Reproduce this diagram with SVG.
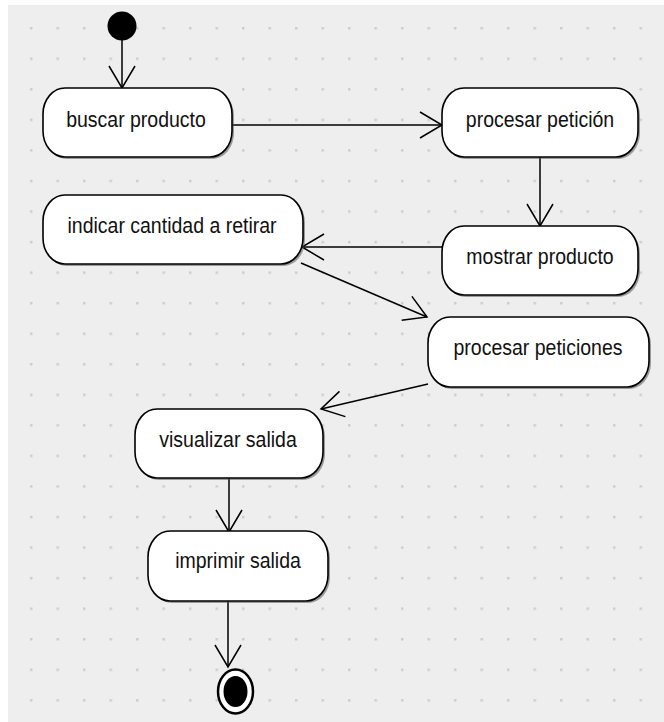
<svg xmlns="http://www.w3.org/2000/svg" width="664" height="722" viewBox="0 0 664 722">
  <defs>
    <pattern id="grid" patternUnits="userSpaceOnUse" x="30" y="27" width="26.5" height="30.55">
      <rect x="0" y="0" width="2.5" height="2.5" fill="#cdcdcd"/>
    </pattern>
    <marker id="open-arrow" markerUnits="userSpaceOnUse" markerWidth="30" markerHeight="30" viewBox="-26 -15 30 30" refX="0" refY="0" orient="auto">
      <path d="M-22,-13 L0,0 L-22,13" fill="none" stroke="#000" stroke-width="1.5"/>
    </marker>
  </defs>
  <style>
    .act-shadow { fill: #555; opacity: 0.55; }
    .act { fill: #fff; stroke: #000; stroke-width: 1.6; }
    .lbl { font-family: "Liberation Sans", Arial, sans-serif; font-size: 19.5px; fill: #111; text-anchor: middle; }
    .edge { fill: none; stroke: #000; stroke-width: 1.5; marker-end: url(#open-arrow); }
  </style>

  <!-- canvas -->
  <rect x="0" y="0" width="664" height="722" fill="#fff"/>
  <rect x="8" y="5" width="656" height="717" fill="#eeeeee"/>
  <rect x="8" y="5" width="656" height="717" fill="url(#grid)"/>

  <!-- connectors -->
  <g id="connectors">
    <line class="edge" x1="122" y1="40" x2="122" y2="88"/>
    <line class="edge" x1="232" y1="125" x2="442" y2="125"/>
    <line class="edge" x1="540" y1="157" x2="540" y2="226"/>
    <line class="edge" x1="442" y1="247" x2="302" y2="247"/>
    <line class="edge" x1="301" y1="263" x2="427" y2="317"/>
    <line class="edge" x1="428" y1="384" x2="321" y2="409"/>
    <line class="edge" x1="229" y1="478" x2="229" y2="532"/>
    <line class="edge" x1="228" y1="601" x2="228" y2="667"/>
  </g>

  <!-- initial state -->
  <g id="start">
    <circle cx="122" cy="26" r="14.5" fill="#000"/>
  </g>

  <g id="buscar-producto">
    <rect class="act-shadow" x="45" y="90" width="189" height="69" rx="22" ry="26"/>
    <rect class="act" x="43" y="88" width="189" height="69" rx="22" ry="26"/>
    <text class="lbl" transform="translate(136,127) scale(1,1.15)">buscar producto</text>
  </g>

  <g id="procesar-peticion">
    <rect class="act-shadow" x="444" y="90" width="196" height="69" rx="22" ry="26"/>
    <rect class="act" x="442" y="88" width="196" height="69" rx="22" ry="26"/>
    <text class="lbl" transform="translate(540,127) scale(1,1.15)">procesar petición</text>
  </g>

  <g id="mostrar-producto">
    <rect class="act-shadow" x="444" y="228" width="196" height="69" rx="22" ry="26"/>
    <rect class="act" x="442" y="226" width="196" height="69" rx="22" ry="26"/>
    <text class="lbl" transform="translate(540,264) scale(1,1.15)">mostrar producto</text>
  </g>

  <g id="indicar-cantidad">
    <rect class="act-shadow" x="45" y="197" width="260" height="69" rx="22" ry="26"/>
    <rect class="act" x="43" y="195" width="260" height="69" rx="22" ry="26"/>
    <text class="lbl" transform="translate(172,233) scale(1,1.15)">indicar cantidad a retirar</text>
  </g>

  <g id="procesar-peticiones">
    <rect class="act-shadow" x="430" y="319" width="221" height="70" rx="22" ry="26"/>
    <rect class="act" x="428" y="317" width="221" height="70" rx="22" ry="26"/>
    <text class="lbl" transform="translate(538,355) scale(1,1.15)">procesar peticiones</text>
  </g>

  <g id="visualizar-salida">
    <rect class="act-shadow" x="137" y="411" width="188" height="69" rx="22" ry="26"/>
    <rect class="act" x="135" y="409" width="188" height="69" rx="22" ry="26"/>
    <text class="lbl" transform="translate(228,447) scale(1,1.15)">visualizar salida</text>
  </g>

  <g id="imprimir-salida">
    <rect class="act-shadow" x="150" y="533" width="180" height="70" rx="22" ry="26"/>
    <rect class="act" x="148" y="531" width="180" height="70" rx="22" ry="26"/>
    <text class="lbl" transform="translate(238,568) scale(1,1.15)">imprimir salida</text>
  </g>

  <!-- final state -->
  <g id="end">
    <ellipse cx="235.5" cy="691.5" rx="17.5" ry="22" fill="#fff" stroke="#000" stroke-width="2.5"/>
    <ellipse cx="235.5" cy="691.5" rx="12" ry="15.5" fill="#000"/>
  </g>
</svg>
